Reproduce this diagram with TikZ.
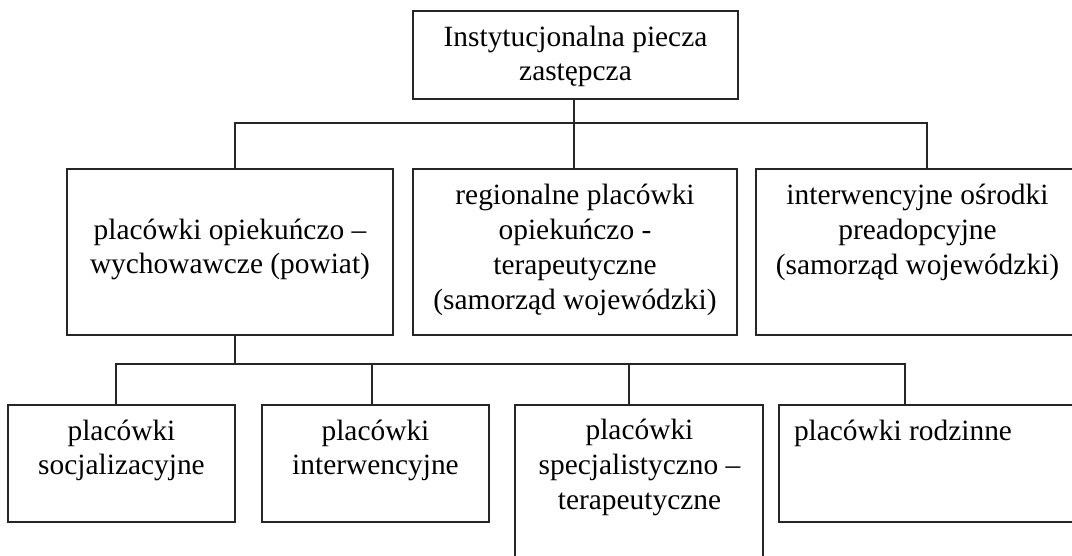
\documentclass[tikz,border=0pt]{standalone}
\usepackage{fontspec}
\setmainfont{Liberation Serif}
\begin{document}
\begin{tikzpicture}[x=1pt,y=-1pt,
  box/.style={draw=black!85,line width=1.6pt,inner sep=0pt,outer sep=0pt,anchor=north west},
  lbl/.style={align=center,inner sep=0pt,font=\fontsize{29.4}{34.8}\selectfont},
  conn/.style={draw=black!85,line width=1.6pt}]
\useasboundingbox (0,0) rectangle (1072,555);
\clip (0,0) rectangle (1072,555);
% boxes
\node[box,minimum width=325pt,minimum height=88pt] (top) at (413,11) {};
\node[box,minimum width=326pt,minimum height=166pt] (b1) at (67,169) {};
\node[box,minimum width=324pt,minimum height=166pt] (b2) at (413,169) {};
\node[box,minimum width=323pt,minimum height=166pt] (b3) at (756,169) {};
\node[box,minimum width=227pt,minimum height=117pt] (c1) at (8,405) {};
\node[box,minimum width=227pt,minimum height=117pt] (c2) at (262,405) {};
\node[box,minimum width=248pt,minimum height=170pt] (c3) at (515,405) {};
\node[box,minimum width=320pt,minimum height=117pt] (c4) at (779,405) {};
% labels
\node[lbl] (ttop) at (575.5,56.5) {Instytucjonalna piecza\\zastępcza};
\node[lbl] (tb1) at (230,249.5) {placówki opiekuńczo –\\wychowawcze (powiat)};
\node[lbl] (tb2) at (575,250) {regionalne placówki\\opiekuńczo -\\terapeutyczne\\(samorząd wojewódzki)};
\node[lbl] (tb3) at (917.5,232.5) {interwencyjne ośrodki\\preadopcyjne\\(samorząd wojewódzki)};
\node[lbl] (tc1) at (121.5,450.5) {placówki\\socjalizacyjne};
\node[lbl] (tc2) at (375.5,450.5) {placówki\\interwencyjne};
\node[lbl] (tc3) at (639.5,467.5) {placówki\\specjalistyczno –\\terapeutyczne};
\node[lbl] (tc4) at (903,433) {placówki rodzinne};
% junction coordinates
\coordinate (j1) at (235,123);
\coordinate (j2) at (574,123);
\coordinate (j3) at (927,123);
\coordinate (k0) at (235,364);
\coordinate (k1) at (116,364);
\coordinate (k2) at (372,364);
\coordinate (k3) at (629,364);
\coordinate (k4) at (905,364);
% connectors
\draw[conn] (j2 |- top.south) -- (j2 |- b2.north);
\draw[conn] (j1 |- b1.north) -- (j1) -- (j3) -- (j3 |- b3.north);
\draw[conn] (k0 |- b1.south) -- (k0);
\draw[conn] (k1 |- c1.north) -- (k1) -- (k4) -- (k4 |- c4.north);
\draw[conn] (k2) -- (k2 |- c2.north);
\draw[conn] (k3) -- (k3 |- c3.north);
\end{tikzpicture}
\end{document}
